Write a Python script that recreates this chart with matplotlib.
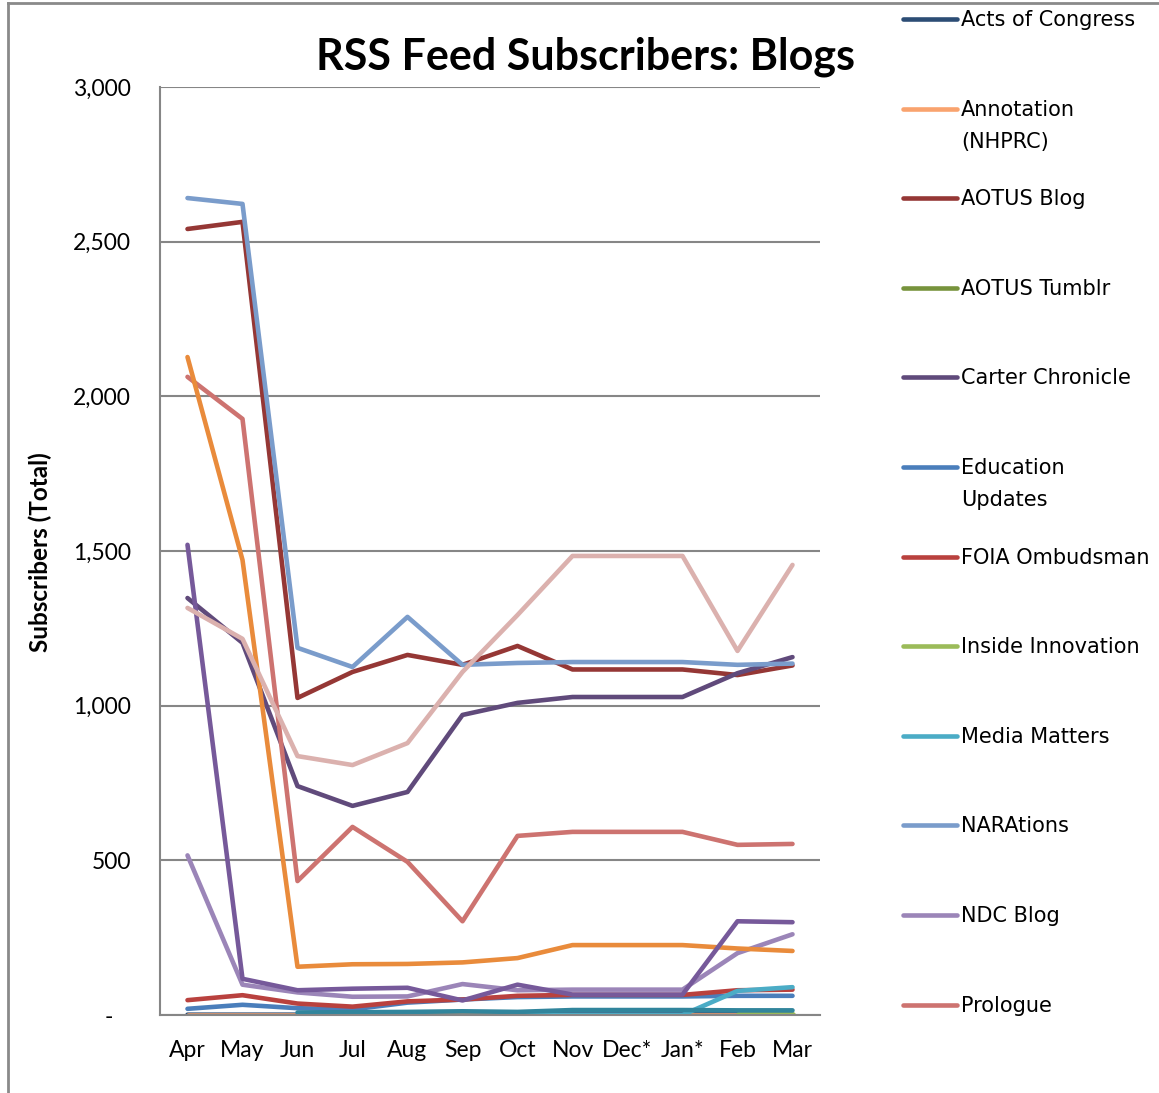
import numpy as np
import matplotlib
matplotlib.use("Agg")
import matplotlib.pyplot as plt
from matplotlib.lines import Line2D
from matplotlib.ticker import FuncFormatter

nan = np.nan
months = ['Apr', 'May', 'Jun', 'Jul', 'Aug', 'Sep', 'Oct', 'Nov', 'Dec*', 'Jan*', 'Feb', 'Mar']

# series shown in the (clipped) legend
acts_of_congress = [1, 1, 1, 1, 1, 2, 2, 2, 2, 2, 2, 2]
annotation_nhprc = [0, 0, 0, 0, 0, 0, 0, 0, 0, 0, 0, 0]
aotus_blog = [2541, 2564, 1025, 1109, 1164, 1132, 1193, 1117, 1117, 1117, 1099, 1130]
aotus_tumblr = [nan, nan, nan, nan, nan, nan, nan, nan, nan, nan, 0, 0]
carter_chronicle = [1348, 1203, 740, 676, 721, 970, 1009, 1028, 1028, 1028, 1105, 1157]
education_updates = [20, 33, 22, 18, 40, 50, 58, 60, 60, 60, 62, 62]
foia_ombudsman = [48, 64, 37, 27, 44, 50, 62, 65, 65, 65, 80, 82]
inside_innovation = [nan, nan, nan, nan, nan, nan, nan, nan, nan, nan, 2, 2]
media_matters = [nan, nan, nan, nan, nan, nan, 0, 0, 0, 0, 78, 90]
narations = [2641, 2622, 1187, 1125, 1287, 1132, 1138, 1141, 1141, 1141, 1132, 1136]
ndc_blog = [516, 98, 73, 59, 60, 100, 80, 82, 82, 82, 200, 261]
prologue = [2063, 1927, 433, 608, 495, 303, 579, 592, 592, 592, 550, 553]

# series whose legend entries fall outside the picture
hidden_orange = [2127, 1471, 156, 164, 165, 170, 184, 226, 226, 226, 215, 207]
hidden_purple = [1520, 117, 80, 85, 88, 47, 98, 66, 66, 66, 303, 300]
hidden_pink = [1316, 1216, 837, 808, 879, 1109, 1293, 1484, 1484, 1484, 1177, 1455]
hidden_teal = [nan, nan, 8, 9, 10, 12, 10, 16, 16, 16, 15, 15]

legend_series = [
    ('Acts of Congress', acts_of_congress, '#2c4d75'),
    ('Annotation\n(NHPRC)', annotation_nhprc, '#f9a36e'),
    ('AOTUS Blog', aotus_blog, '#953735'),
    ('AOTUS Tumblr', aotus_tumblr, '#77933c'),
    ('Carter Chronicle', carter_chronicle, '#604a7b'),
    ('Education\nUpdates', education_updates, '#4a7ebb'),
    ('FOIA Ombudsman', foia_ombudsman, '#b9413e'),
    ('Inside Innovation', inside_innovation, '#9bbb59'),
    ('Media Matters', media_matters, '#4bacc6'),
    ('NARAtions', narations, '#7a9ccb'),
    ('NDC Blog', ndc_blog, '#9b85b8'),
    ('Prologue', prologue, '#cd7370'),
]
extra_series = [
    (hidden_orange, '#e98b3b'),
    (hidden_purple, '#76599a'),
    (hidden_pink, '#dbb1ae'),
    (hidden_teal, '#31859c'),
]

narrow = ['Lato', 'DejaVu Sans']
W, H = 1159, 1093
fig = plt.figure(figsize=(W / 100, H / 100), dpi=100)
ax = fig.add_axes([160 / W, 1 - 1015 / H, 660 / W, 928 / H])

x = np.arange(len(months))
for name, vals, col in legend_series:
    ax.plot(x, vals, color=col, lw=3.3, solid_capstyle='round', solid_joinstyle='round')
for vals, col in extra_series:
    ax.plot(x, vals, color=col, lw=3.3, solid_capstyle='round', solid_joinstyle='round')

ax.set_xlim(-0.5, len(months) - 0.5)
ax.set_ylim(0, 3000)
ax.set_yticks(np.arange(0, 3001, 500))
ax.yaxis.set_major_formatter(FuncFormatter(lambda v, p: '-   ' if v == 0 else f'{int(v):,}'))
ax.set_xticks(x)
ax.set_xticklabels(months)
ax.grid(axis='y', color='#868686', lw=1.5)
ax.set_axisbelow(True)
for s in ['top', 'right']:
    ax.spines[s].set_visible(False)
for s in ['left', 'bottom']:
    ax.spines[s].set_color('#868686')
    ax.spines[s].set_linewidth(1.5)
ax.tick_params(length=0, labelsize=16.5)
ax.tick_params(axis='x', pad=18)
ax.tick_params(axis='y', pad=21)
for lab in ax.get_xticklabels() + ax.get_yticklabels():
    lab.set_family(narrow)

fig.text(40 / W, 1 - 552 / H, 'Subscribers (Total)', rotation=90, ha='center', va='center',
         fontsize=17.5, fontweight='bold', family=narrow)

fig.text(585 / W, 1 - 57 / H, 'RSS Feed Subscribers: Blogs', ha='center', va='center',
         fontsize=31, fontweight='bold', family=narrow)

# legend (only the part that fits in the picture)
for i, (name, vals, col) in enumerate(legend_series):
    yy = 1 - (19 + i * 89.6) / H
    fig.add_artist(Line2D([903 / W, 957 / W], [yy, yy], color=col, lw=3.3, solid_capstyle='round'))
    fig.text(961 / W, yy + 9 / H, name, ha='left', va='top', fontsize=15,
             linespacing=1.75, family='DejaVu Sans')

# chart-area frame edges
fig.add_artist(Line2D([8 / W, 1], [1 - 3 / H, 1 - 3 / H], color='#8a8a8a', lw=2))
fig.add_artist(Line2D([8 / W, 8 / W], [0, 1 - 3 / H], color='#8a8a8a', lw=2))

fig.savefig('out.png', dpi=100)
